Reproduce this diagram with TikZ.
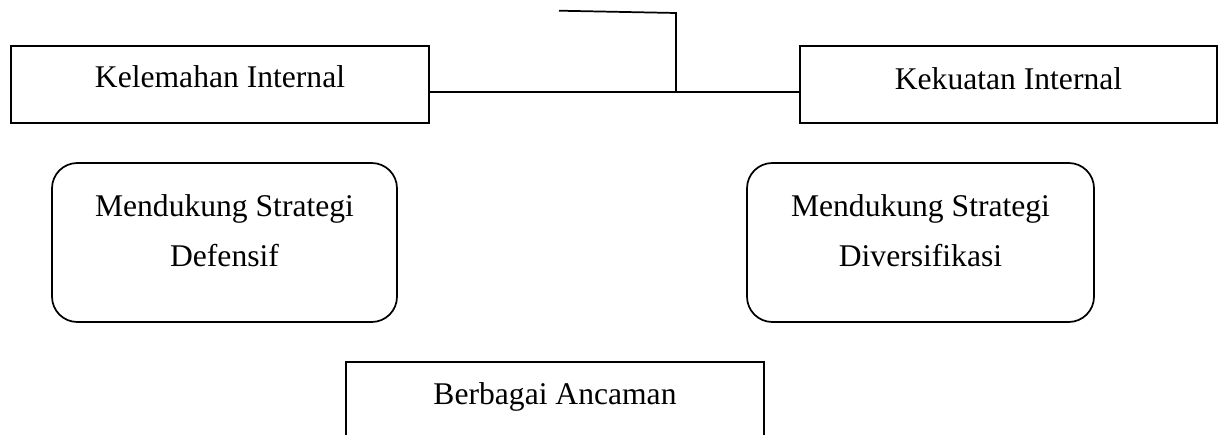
\documentclass[tikz,border=0pt]{standalone}
\usepackage{fontspec}
\setmainfont{Liberation Serif}
\begin{document}
\begin{tikzpicture}[x=0.75pt,y=-0.75pt,
  box/.style={draw, line width=1.3pt, inner sep=0pt,
    font=\fontsize{23.7}{37.5}\selectfont},
  rbox/.style={box, align=center, rounded corners=19pt},
  conn/.style={line width=1.3pt}]
\useasboundingbox (0,0) rectangle (1223,435);
\clip (0,0) rectangle (1223,435);
\node[box, minimum width=418*0.75pt, minimum height=77*0.75pt,
      text height=16pt, text depth=10.75pt] (KI) at (220,84.5) {Kelemahan Internal};
\node[box, minimum width=417*0.75pt, minimum height=77*0.75pt,
      text height=16pt, text depth=8.5pt] (KK) at (1008.5,84.5) {Kekuatan Internal};
\node[rbox, minimum width=345*0.75pt, minimum height=159*0.75pt,
      text height=45pt, text depth=9.75pt] (MD) at (224.5,242.5) {Mendukung Strategi\\Defensif};
\node[rbox, minimum width=347*0.75pt, minimum height=159*0.75pt,
      text height=45pt, text depth=9.75pt] (MV) at (920.5,242.5) {Mendukung Strategi\\Diversifikasi};
\node[box, minimum width=418*0.75pt, minimum height=100*0.75pt,
      text height=8pt, text depth=20pt] (BA) at (555,412) {Berbagai Ancaman};
\coordinate (j) at (676,92);
\coordinate (t) at (676,13);
\coordinate (e) at (559,10.7);
\draw[conn] (KI.east |- j) -- (KK.west |- j);
\draw[conn] (j) -- (t) -- (e);
\end{tikzpicture}
\end{document}
